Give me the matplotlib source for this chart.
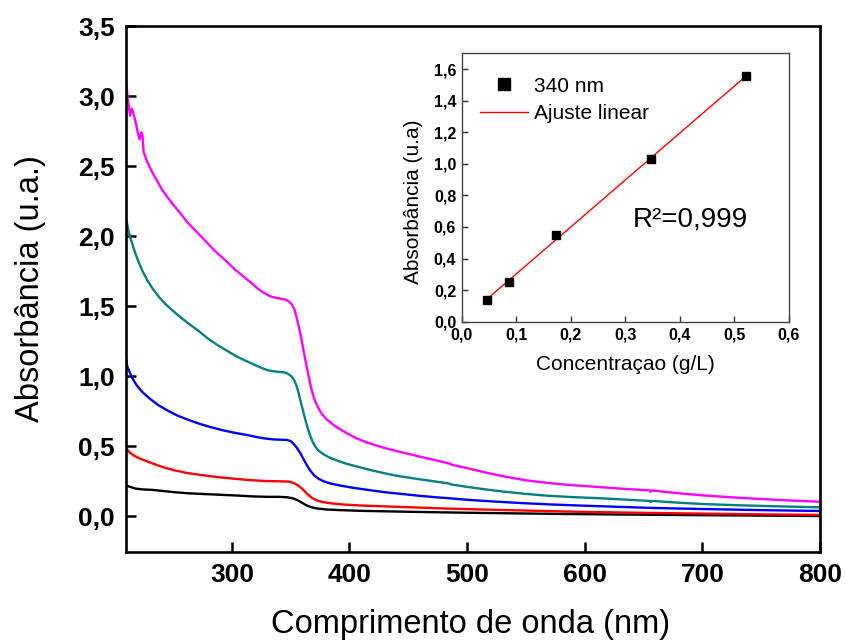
import matplotlib
matplotlib.use("Agg")
import matplotlib.pyplot as plt
import numpy as np
from matplotlib.lines import Line2D

plt.rcParams['font.family'] = ['Liberation Sans', 'DejaVu Sans']

# UV-Vis spectra: wavelength (nm) and absorbance for each dilution
wl_magenta = [210, 212, 213.5, 215, 216.5, 218, 220, 221.5, 223, 224, 225, 228, 232, 236, 240,
              245, 250, 256, 262, 270, 278, 286, 294, 302, 310, 316, 322, 327, 331, 335, 340,
              345, 348, 351, 353, 355, 357, 359, 361, 363, 365, 367, 369, 371, 373, 376, 380,
              385, 390, 398, 406, 416, 426, 436, 446, 456, 466, 476, 486, 487, 500, 515, 530,
              550, 570, 590, 610, 630, 655, 656, 657, 680, 700, 720, 740, 760, 780, 800]
abs_magenta = [3.10, 2.95, 2.86, 2.91, 2.87, 2.82, 2.74, 2.69, 2.74, 2.72, 2.60, 2.53, 2.46, 2.40,
               2.34, 2.28, 2.225, 2.165, 2.10, 2.03, 1.96, 1.89, 1.83, 1.765, 1.71, 1.668, 1.625,
               1.595, 1.576, 1.563, 1.555, 1.547, 1.536, 1.512, 1.48, 1.42, 1.35, 1.27, 1.18, 1.09,
               1.01, 0.93, 0.865, 0.815, 0.78, 0.735, 0.695, 0.66, 0.63, 0.59, 0.555, 0.522,
               0.495, 0.472, 0.452, 0.432, 0.412, 0.393, 0.372, 0.366, 0.342, 0.312, 0.285,
               0.255, 0.235, 0.22, 0.208, 0.196, 0.183, 0.173, 0.183, 0.162, 0.148, 0.136,
               0.126, 0.117, 0.109, 0.102]

wl_teal = [210, 212, 214, 217, 220, 224, 228, 233, 238, 244, 250, 257, 264, 272, 280, 288, 296,
           304, 312, 318, 323, 327, 331, 336, 341, 345, 348, 351, 353, 355, 357, 359, 361, 363,
           365, 367, 369, 371, 374, 378, 383, 390, 398, 408, 418, 430, 440, 455, 470, 485, 486,
           500, 515, 530, 550, 570, 590, 613, 635, 655, 656, 657, 680, 700, 730, 760, 800]
abs_teal = [2.13, 2.04, 1.98, 1.90, 1.83, 1.75, 1.685, 1.62, 1.565, 1.51, 1.465, 1.415, 1.37,
            1.32, 1.265, 1.22, 1.18, 1.14, 1.108, 1.085, 1.066, 1.052, 1.04, 1.033, 1.029, 1.025,
            1.015, 0.995, 0.97, 0.93, 0.87, 0.80, 0.735, 0.67, 0.615, 0.565, 0.525, 0.495,
            0.465, 0.44, 0.418, 0.394, 0.372, 0.35, 0.328, 0.305, 0.288, 0.268, 0.25, 0.232,
            0.226, 0.208, 0.191, 0.175, 0.158, 0.144, 0.135, 0.127, 0.117, 0.108, 0.100, 0.108,
            0.095, 0.086, 0.077, 0.070, 0.062]

wl_blue = [210, 211, 212.5, 215, 219, 224, 230, 237, 245, 253, 262, 272, 282, 292, 302, 312, 320,
           327, 334, 341, 347, 350, 352, 355, 358, 361, 364, 367, 370, 374, 378, 384, 392, 402,
           417, 430, 445, 460, 475, 486, 500, 520, 545, 570, 595, 620, 656, 700, 750, 800]
abs_blue = [1.13, 1.07, 1.04, 0.99, 0.935, 0.885, 0.84, 0.795, 0.755, 0.72, 0.69, 0.66, 0.635,
            0.613, 0.595, 0.58, 0.566, 0.555, 0.548, 0.545, 0.543, 0.535, 0.52, 0.49, 0.452,
            0.405, 0.36, 0.32, 0.29, 0.265, 0.248, 0.232, 0.218, 0.203, 0.185, 0.17, 0.157,
            0.144, 0.133, 0.126, 0.116, 0.105, 0.093, 0.083, 0.075, 0.068, 0.058, 0.05, 0.042,
            0.036]

wl_red = [210, 213, 217, 222, 228, 235, 243, 252, 262, 274, 288, 302, 315, 328, 340, 348, 352,
          356, 360, 364, 368, 372, 377, 385, 395, 410, 430, 450, 480, 520, 560, 600, 656, 700,
          750, 800]
abs_red = [0.485, 0.455, 0.43, 0.41, 0.39, 0.368, 0.345, 0.325, 0.307, 0.293, 0.278, 0.266,
           0.257, 0.25, 0.248, 0.246, 0.238, 0.22, 0.193, 0.158, 0.13, 0.112, 0.1, 0.09, 0.082,
           0.075, 0.069, 0.063, 0.054, 0.045, 0.037, 0.029, 0.022, 0.017, 0.012, 0.008]

wl_black = [210, 214, 218, 224, 232, 240, 250, 262, 276, 290, 305, 318, 330, 340, 347, 352, 356,
            360, 364, 368, 373, 380, 392, 410, 440, 480, 530, 600, 656, 700, 750, 800]
abs_black = [0.218, 0.207, 0.196, 0.19, 0.187, 0.18, 0.171, 0.163, 0.157, 0.152, 0.146, 0.14,
             0.137, 0.137, 0.134, 0.126, 0.112, 0.093, 0.074, 0.062, 0.053, 0.047, 0.042, 0.037,
             0.032, 0.026, 0.02, 0.013, 0.009, 0.006, 0.003, 0.0]

# Calibration at 340 nm
conc = [0.047, 0.086, 0.173, 0.347, 0.521]
abs_340 = [0.137, 0.25, 0.549, 1.029, 1.554]

main_yticks = [0.0, 0.5, 1.0, 1.5, 2.0, 2.5, 3.0, 3.5]
main_xticks = [300, 400, 500, 600, 700, 800]
inset_xticks = [0.0, 0.1, 0.2, 0.3, 0.4, 0.5, 0.6]
inset_yticks = [0.0, 0.2, 0.4, 0.6, 0.8, 1.0, 1.2, 1.4, 1.6]


def comma(v, nd=1):
    return f"{v:.{nd}f}".replace('.', ',')


W, H = 846, 642
fig = plt.figure(figsize=(W / 100, H / 100), dpi=100)

# main spectra axes
ax = fig.add_axes([126 / W, 1 - 552 / H, (820 - 126) / W, (552 - 26) / H])
lw = 1.7
ax.plot(wl_black, abs_black, color='black', lw=lw)
ax.plot(wl_red, abs_red, color='#ff0000', lw=lw)
ax.plot(wl_blue, abs_blue, color='#0000ff', lw=lw)
ax.plot(wl_teal, abs_teal, color='#008080', lw=lw)
ax.plot(wl_magenta, abs_magenta, color='#ff00ff', lw=lw)

ax.set_xlim(210, 800)
ax.set_ylim(-0.257, 3.5)
ax.set_xticks(main_xticks)
ax.set_xticklabels([str(v) for v in main_xticks])
ax.set_yticks(main_yticks)
ax.set_yticklabels([comma(v) for v in main_yticks])
ax.tick_params(direction='in', length=7, width=1.8, labelsize=19, pad=8,
               top=False, right=False)
for lab in ax.get_xticklabels() + ax.get_yticklabels():
    lab.set_fontweight('bold')
for sp in ax.spines.values():
    sp.set_linewidth(1.9)

ax.set_xlabel('Comprimento de onda (nm)', fontsize=23.5, va='center')
ax.xaxis.set_label_coords(0.497, -0.138)
ax.set_ylabel('Absorbância (u.a.)', fontsize=23.5, va='center')
ax.yaxis.set_label_coords(-0.137, 0.5)

# calibration inset
ix0, iy0, ix1, iy1 = 461.7, 53.3, 789, 321.7
axi = fig.add_axes([ix0 / W, 1 - iy1 / H, (ix1 - ix0) / W, (iy1 - iy0) / H])
slope, intercept = np.polyfit(conc, abs_340, 1)
xfit = np.array([min(conc), max(conc)])
axi.plot(xfit, slope * xfit + intercept, color='#ff0000', lw=1.0, zorder=2)
axi.plot(conc, abs_340, 's', color='black', ms=5.5, zorder=3)

axi.set_xlim(0, 0.6)
axi.set_ylim(0, 1.7)
axi.set_xticks(inset_xticks)
axi.set_xticklabels([comma(v) for v in inset_xticks])
axi.set_yticks(inset_yticks)
axi.set_yticklabels([comma(v) for v in inset_yticks])
axi.tick_params(direction='in', length=4, width=1.0, labelsize=11.5, pad=4,
                top=False, right=False, color='#333333')
for lab in axi.get_xticklabels() + axi.get_yticklabels():
    lab.set_fontweight('bold')
for sp in axi.spines.values():
    sp.set_linewidth(1.0)
    sp.set_color('#444444')

axi.set_xlabel('Concentraçao (g/L)', fontsize=15, va='center')
axi.xaxis.set_label_coords(0.5, (iy1 - 365) / (iy1 - iy0))
axi.set_ylabel('Absorbância (u.a)', fontsize=15, va='center')
axi.yaxis.set_label_coords((413 - ix0) / (ix1 - ix0), (iy1 - 201.7) / (iy1 - iy0))

handles = [Line2D([], [], ls='none', marker='s', color='black', ms=8),
           Line2D([], [], color='#ff0000', lw=1.0)]
axi.legend(handles, ['340 nm', 'Ajuste linear'], frameon=False, fontsize=15,
           loc='upper left', bbox_to_anchor=(0.055, 0.913), borderaxespad=0,
           borderpad=0, handlelength=2.3, handletextpad=0.3, labelspacing=0.4)

axi.text((690 - ix0) / (ix1 - ix0), (iy1 - 220) / (iy1 - iy0), 'R²=0,999',
         transform=axi.transAxes, fontsize=20, ha='center', va='center')

fig.savefig('out.png', dpi=100)
